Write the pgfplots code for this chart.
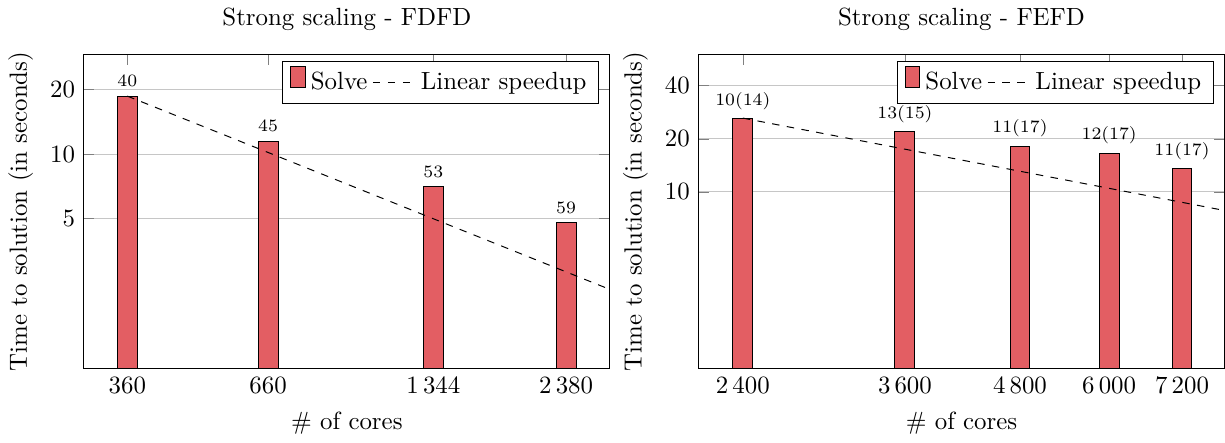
\documentclass[border=0pt]{standalone}
\usepackage{pgfplots}
\pgfplotsset{compat=1.18}
\usepackage{pgfplotstable}
\definecolor{barred}{RGB}{227,94,99}
\pgfplotsset{singlebar legend/.style={legend image code/.code={\draw[##1] (0pt,-2pt) rectangle (6pt,6.3pt);}}}
\pgfplotstableread{
x y lab
360 18.64 40
660 11.49 45
1344 7.08 53
2380 4.81 59
}\fdfd
\pgfplotstableread{
x y lab
2400 26.2 10(14)
3600 22.0 13(15)
4800 18.2 11(17)
6000 16.6 12(17)
7200 13.5 11(17)
}\fefd
\begin{document}
\begin{tikzpicture}
\begin{axis}[
  width=211.6pt, height=126.2pt, scale only axis,
  xmode=log, ymode=log,
  ymajorgrids, grid style={gray!45},
  xlabel={\# of cores},
  ylabel={Time to solution (in seconds)},
  legend columns=2,
  legend style={at={(0.98,0.98)}, anchor=north east},
  title={Strong scaling - FDFD},
  xmin=298.6, xmax=2874, ymin=1, ymax=29.1,
  xtick={360,660,1344,2380}, xticklabels={360,660,{1\,344},{2\,380}},
  ytick={5,10,20}, yticklabels={5,10,20}]
\addplot[ybar, bar width=8pt, fill=barred, draw=black, singlebar legend,
    nodes near coords, point meta=explicit symbolic,
    every node near coord/.append style={font=\scriptsize, black}]
  table[x=x, y=y, meta=lab]{\fdfd};
\addlegendentry{Solve}
\addplot[dashed, black] coordinates {(360,18.64) (660,10.17) (1344,4.99) (2380,2.82) (2874,2.335)};
\addlegendentry{Linear speedup}
\end{axis}
\begin{axis}[
  at={(247.2pt,0pt)},
  width=211.6pt, height=126.2pt, scale only axis,
  xmode=log, ymode=log,
  ymajorgrids, grid style={gray!45},
  xlabel={\# of cores},
  ylabel={Time to solution (in seconds)},
  legend columns=2,
  legend style={at={(0.98,0.98)}, anchor=north east},
  title={Strong scaling - FEFD},
  xmin=2148, xmax=8007, ymin=1, ymax=60,
  xtick={2400,3600,4800,6000,7200}, xticklabels={{2\,400},{3\,600},{4\,800},{6\,000},{7\,200}},
  ytick={10,20,40}, yticklabels={10,20,40}]
\addplot[ybar, bar width=8pt, fill=barred, draw=black, singlebar legend,
    nodes near coords, point meta=explicit symbolic,
    every node near coord/.append style={font=\scriptsize, black}]
  table[x=x, y=y, meta=lab]{\fefd};
\addlegendentry{Solve}
\addplot[dashed, black] coordinates {(2400,26.2) (3600,17.47) (4800,13.1) (6000,10.48) (7200,8.73) (8007,7.85)};
\addlegendentry{Linear speedup}
\end{axis}
\end{tikzpicture}
\end{document}
